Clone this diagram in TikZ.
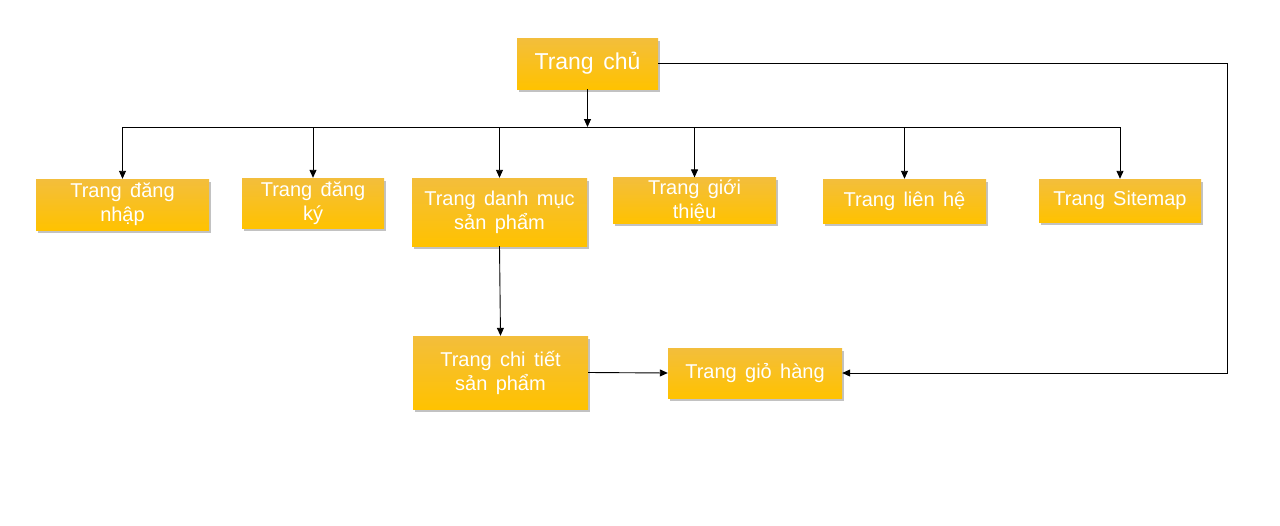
\documentclass[tikz,border=0pt]{standalone}
\usepackage{fontspec}
\setmainfont[WordSpace=1.5]{Liberation Sans}
\usetikzlibrary{arrows.meta,shadows}
\definecolor{boxtop}{RGB}{243,190,60}
\definecolor{boxbot}{RGB}{255,194,0}
\definecolor{shadowc}{RGB}{120,120,120}
\tikzset{
  pagebox/.style={rectangle, top color=boxtop, bottom color=boxbot, draw=none,
    text=white, font=\fontsize{20}{24}\selectfont, align=center, inner sep=2pt,
    drop shadow={shadow xshift=1.5pt, shadow yshift=-2.5pt, fill=shadowc, opacity=0.45}},
  conn/.style={draw=black, line width=0.9pt},
  arr/.style={conn, -{Triangle[length=8pt,width=7pt]}}
}
\begin{document}
\begin{tikzpicture}[x=1pt,y=-1pt]
\useasboundingbox[fill=white] (0,0) rectangle (1280,525);
\node[pagebox, minimum width=141pt, minimum height=51pt, font=\fontsize{23}{27}\selectfont] (home) at (587.5,63.5) {Trang chủ};
\node[pagebox, minimum width=173pt, minimum height=51pt] (login) at (122.5,204.5) {Trang đăng\\nhập};
\node[pagebox, minimum width=142pt, minimum height=50pt] (reg) at (313,203) {Trang đăng\\ký};
\node[pagebox, minimum width=175pt, minimum height=68pt] (cat) at (499.5,212) {Trang danh mục\\sản phẩm};
\node[pagebox, minimum width=163pt, minimum height=45pt] (intro) at (694.5,200.5) {Trang giới\\thiệu};
\node[pagebox, minimum width=163pt, minimum height=44pt] (contact) at (904.5,201) {Trang liên hệ};
\node[pagebox, minimum width=162pt, minimum height=43pt] (sitemap) at (1120,200.5) {Trang Sitemap};
\node[pagebox, minimum width=175pt, minimum height=73pt] (detail) at (500.5,372.5) {Trang chi tiết\\sản phẩm};
\node[pagebox, minimum width=174pt, minimum height=50pt] (cart) at (755,373) {Trang giỏ hàng};
\coordinate (bus) at (587.5,127);
\coordinate (rc) at (1227,200);
\draw[arr] (home.south) -- (bus);
\draw[conn] (bus -| login.north) -- (bus -| sitemap.north);
\foreach \n in {login,reg,cat,intro,contact,sitemap}
  \draw[arr] (bus -| \n.north) -- (\n.north);
\draw[arr] (home.east) -| (rc) |- (cart.east);
\draw[arr] (cat.south) -- (detail.north);
\draw[arr] (detail.east) -- (cart.west);
\end{tikzpicture}
\end{document}
